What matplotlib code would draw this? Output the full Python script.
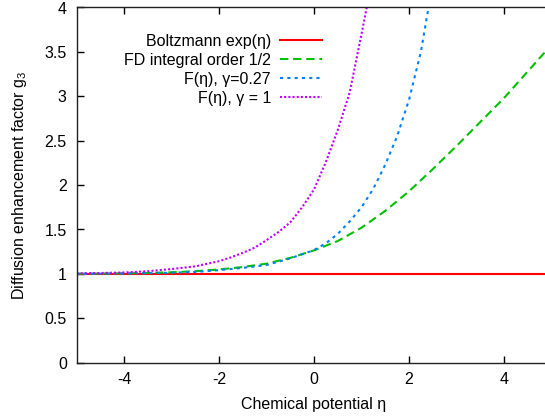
import matplotlib
matplotlib.use("Agg")
import matplotlib.pyplot as plt

plt.rcParams['font.family'] = ['Liberation Sans', 'DejaVu Sans']
plt.rcParams['mathtext.fontset'] = 'custom'
plt.rcParams['mathtext.rm'] = 'Liberation Sans'
plt.rcParams['mathtext.it'] = 'Liberation Sans:italic'

# Boltzmann exp(eta) -> g3 = 1
eta_boltz = [-5.0, 5.0]
g_boltz = [1.0, 1.0]

# FD integral order 1/2
eta_fd = [-5.0, -4.5, -4.0, -3.5, -3.0, -2.5, -2.0, -1.5, -1.0, -0.5, 0.0,
          0.5, 1.0, 1.5, 2.0, 2.5, 3.0, 3.5, 4.0, 4.5, 5.0]
g_fd = [1.002, 1.004, 1.007, 1.011, 1.018, 1.030, 1.050, 1.077, 1.115, 1.180, 1.265,
        1.370, 1.520, 1.710, 1.930, 2.180, 2.440, 2.710, 2.980, 3.280, 3.580]

# F(eta), gamma = 0.27
eta_g027 = [-5.0, -4.5, -4.0, -3.5, -3.0, -2.5, -2.0, -1.5, -1.0, -0.5, 0.0,
            0.25, 0.5, 0.75, 1.0, 1.25, 1.5, 1.75, 2.0, 2.25, 2.41, 2.5]
g_g027 = [1.001, 1.002, 1.004, 1.008, 1.013, 1.022, 1.042, 1.068, 1.100, 1.175, 1.268,
          1.345, 1.450, 1.590, 1.750, 1.960, 2.230, 2.550, 2.960, 3.500, 4.000, 4.350]

# F(eta), gamma = 1
eta_g1 = [-5.0, -4.5, -4.0, -3.5, -3.0, -2.5, -2.0, -1.75, -1.5, -1.25, -1.0,
          -0.75, -0.5, -0.25, 0.0, 0.25, 0.5, 0.75, 1.0, 1.11, 1.2]
g_g1 = [1.006, 1.010, 1.016, 1.030, 1.055, 1.085, 1.143, 1.186, 1.237, 1.295, 1.380,
        1.470, 1.580, 1.750, 1.950, 2.260, 2.620, 3.040, 3.700, 4.000, 4.300]

labels = ["Boltzmann exp(η)", "FD integral order 1/2", "F(η), γ=0.27", "F(η), γ = 1"]
colors = ["#ff0000", "#00c000", "#0080ff", "#c000ff"]

xticks = [-4, -2, 0, 2, 4]
yticks = [0, 0.5, 1, 1.5, 2, 2.5, 3, 3.5, 4]
ytick_labels = ["0", "0.5", "1", "1.5", "2", "2.5", "3", "3.5", "4"]

W, H = 545, 419
FS = 11.5
fig = plt.figure(figsize=(W / 100, H / 100), dpi=100)
left, right = 76.5 / W, 551.5 / W
bottom, top = 1 - 362.7 / H, 1 - 7.5 / H
ax = fig.add_axes([left, bottom, right - left, top - bottom])

lw = 1.5
ax.plot(eta_boltz, g_boltz, color=colors[0], lw=lw, label=labels[0])
ax.plot(eta_fd, g_fd, color=colors[1], lw=lw, dashes=(4, 2.3), label=labels[1])
ax.plot(eta_g027, g_g027, color=colors[2], lw=lw, dashes=(1.5, 2.0), label=labels[2])
ax.plot(eta_g1, g_g1, color=colors[3], lw=lw, dashes=(1.0, 1.0), label=labels[3])

ax.set_xlim(-5, 5)
ax.set_ylim(0, 4)
ax.set_xticks(xticks)
ax.set_xticklabels([str(t) for t in xticks])
ax.set_yticks(yticks)
ax.set_yticklabels(ytick_labels)
ax.tick_params(direction='in', length=5, width=1, top=True, right=True,
               labelsize=FS, pad=7, colors='black')
for s in ax.spines.values():
    s.set_linewidth(1)
    s.set_color('#222222')

ax.set_xlabel("Chemical potential η", fontsize=FS, labelpad=7)
ax.set_ylabel(r"Diffusion enhancement factor $\mathregular{g_3}$", fontsize=FS, labelpad=11)

fs = FS * 100 / 72
leg = ax.legend(loc='upper right', bbox_to_anchor=(322 / W, 1 - 34 / H),
                bbox_transform=fig.transFigure, frameon=False, markerfirst=False,
                fontsize=FS, borderpad=0, borderaxespad=0,
                handlelength=42 / fs, handletextpad=9 / fs, labelspacing=0.25)

fig.savefig("out.png", dpi=100)
